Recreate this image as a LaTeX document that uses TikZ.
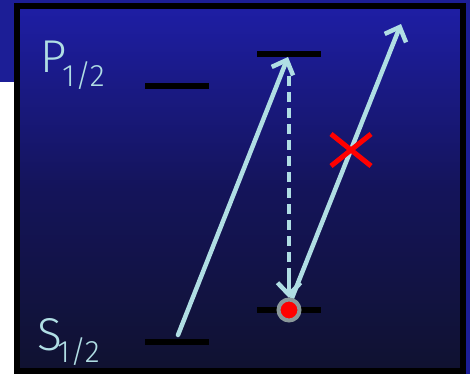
\documentclass[tikz,border=0pt]{standalone}
\usepackage{fontspec}
\setmainfont{Fira Sans Light}
\usetikzlibrary{arrows.meta}
\definecolor{bgtop}{RGB}{30,30,165}
\definecolor{bgmid}{RGB}{20,20,90}
\definecolor{bgbot}{RGB}{16,18,48}
\definecolor{outblue}{RGB}{28,30,150}
\definecolor{beam}{RGB}{176,222,228}
\definecolor{ring}{RGB}{138,152,154}
\definecolor{xred}{RGB}{255,0,0}
\tikzset{
  level/.style={draw=black,line width=5.5pt},
  beamline/.style={draw=beam,line width=4.5pt,line cap=round},
  beamtip/.style={-{Straight Barb[length=12pt,width=23pt,line width=4.5pt]}},
  lbl/.style={text=beam,inner sep=0pt,anchor=base west},
  xline/.style={draw=xred,line width=5pt}
}
\begin{document}
\begin{tikzpicture}[x=1pt,y=-1pt]
\useasboundingbox (0,0) rectangle (470,374);
% outside background
\fill[outblue] (0,0) rectangle (470,374);
\fill[white] (0,82) rectangle (14,374);
% inner photo background
\shade[top color=bgtop,bottom color=bgbot,middle color=bgmid] (17,6) rectangle (463,371);
% frame
\draw[black,line width=6pt] (17,6) rectangle (463,371);
% labels
\node[lbl] (P) at (40,73) {\fontsize{46}{46}\selectfont P};
\node[lbl] (Psub) at (62,87) {\fontsize{31}{31}\selectfont 1/2};
\node[lbl] (S) at (37,350) {\fontsize{46}{46}\selectfont S};
\node[lbl] (Ssub) at (57,362) {\fontsize{31}{31}\selectfont 1/2};
% levels
\coordinate (pl1) at (145,86); \coordinate (pl2) at (209,86);
\coordinate (pr1) at (257,54); \coordinate (pr2) at (321,54);
\coordinate (sl1) at (145,342); \coordinate (sl2) at (209,342);
\coordinate (sr1) at (257,310); \coordinate (sr2) at (321,310);
\draw[level] (pl1) -- (pl2);
\draw[level] (pr1) -- (pr2);
\draw[level] (sl1) -- (sl2);
\draw[level] (sr1) -- (sr2);
% beam endpoints
\coordinate (a1) at (178,335);
\coordinate (a2) at (288,57);
\coordinate (d1) at (289,76);
\coordinate (d2) at (289,298);
\coordinate (d3) at (289,278);
\coordinate (b1) at (292,298);
\coordinate (b2) at (401,24);
% beams
\draw[beamline,beamtip] (a1) -- (a2);
\draw[beamline,beamtip] (b1) -- (b2);
\draw[beamline,dash pattern=on 10pt off 6pt,line cap=butt] (d1) -- (d3);
\draw[beamline,beamtip] (d3) -- (d2);
% ion
\node[circle,fill=xred,draw=ring,line width=4pt,minimum size=21pt,inner sep=0pt] (ion) at (289,310) {};
% red X
\coordinate (x1) at (331,134); \coordinate (x2) at (371,166);
\coordinate (x3) at (331,166); \coordinate (x4) at (371,134);
\draw[xline] (x1) -- (x2);
\draw[xline] (x3) -- (x4);
\end{tikzpicture}
\end{document}
